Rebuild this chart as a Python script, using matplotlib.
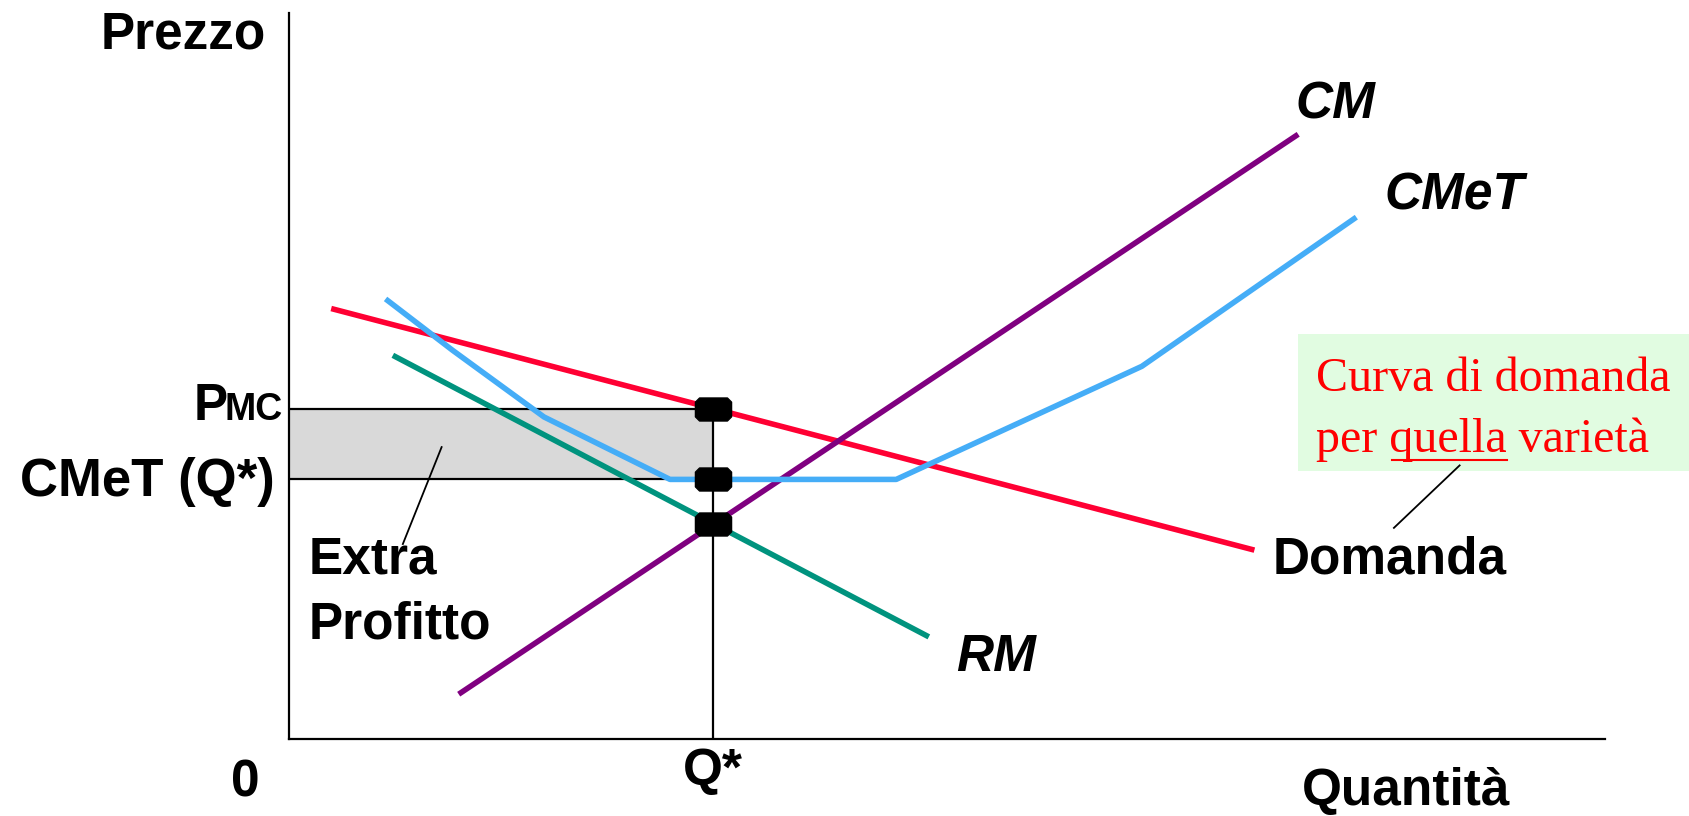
import numpy as np
import matplotlib.pyplot as plt
from matplotlib.path import Path
from matplotlib.lines import Line2D

# Curve (x, y) nodes in chart units
domanda_x = [4.2, 89.4]
domanda_y = [39.9, 17.6]
rm_x = [9.9, 59.2]
rm_y = [35.5, 9.6]
cm_x = [16.0, 93.5]
cm_y = [4.3, 56.0]
cmet_x = [9.2, 15.2, 23.7, 35.4, 56.4, 79.2, 98.9]
cmet_y = [40.7, 36.1, 29.9, 24.1, 24.1, 34.6, 48.3]

q_star = 39.4
p_mc = 30.6
cmet_q = 24.1
cm_q = 20.0

RED = "#ff0033"
TEAL = "#00937e"
PURPLE = "#800080"
BLUE = "#45adf7"

plt.rcParams["font.family"] = ["Liberation Sans", "DejaVu Sans"]

fig = plt.figure(figsize=(16.89, 8.16), dpi=100)
ax = fig.add_axes([0.1709, 0.0944, 0.7794, 0.8896])
ax.set_xlim(0, 122.2)
ax.set_ylim(0, 67.4)
for s in ["top", "right"]:
    ax.spines[s].set_visible(False)
for s in ["left", "bottom"]:
    ax.spines[s].set_linewidth(1.6)
ax.set_xticks([])
ax.set_yticks([])

# area of extra profit
ax.fill_between([0, q_star], cmet_q, p_mc, color="#d9d9d9", lw=0, zorder=1)
ax.plot([0, q_star], [p_mc, p_mc], color="black", lw=1.6, zorder=2)
ax.plot([0, q_star], [cmet_q, cmet_q], color="black", lw=1.6, zorder=2)
ax.plot([q_star, q_star], [0, p_mc], color="black", lw=1.6, zorder=2)

lw = 4.0
ax.plot(domanda_x, domanda_y, color=RED, lw=lw, zorder=3)
ax.plot(rm_x, rm_y, color=TEAL, lw=lw, zorder=3)
ax.plot(cm_x, cm_y, color=PURPLE, lw=lw, zorder=3)
ax.plot(cmet_x, cmet_y, color=BLUE, lw=lw, zorder=3)

# rounded black markers at Q*
w, h, c = 0.785, 0.5, 0.18
verts = [(-w + c, -h), (w - c, -h), (w, -h + c), (w, h - c), (w - c, h),
         (-w + c, h), (-w, h - c), (-w, -h + c), (-w + c, -h)]
codes = [Path.MOVETO] + [Path.LINETO] * 7 + [Path.CLOSEPOLY]
pill = Path(verts, codes)
ax.plot([q_star] * 3, [p_mc, cmet_q, cm_q], ls="none", marker=pill,
        markersize=26, color="black", zorder=5)

bold = dict(fontsize=37, fontweight="bold", clip_on=False)
bi = dict(fontsize=37, fontweight="bold", style="italic", clip_on=False)

ax.text(-9.8, 65.4, "Prezzo", ha="center", va="center", **bold)
ax.text(-4.0, -4.1, "0", ha="center", va="center", **bold)
ax.text(q_star, -3.0, "Q*", ha="center", va="center", **bold)
ax.text(103.7, -4.9, "Quantità", ha="center", va="center", **bold)
ax.text(-8.8, 29.6, "P", ha="left", va="baseline", **bold)
ax.text(-6.0, 29.6, "MC", ha="left", va="baseline", fontsize=27,
        fontweight="bold", clip_on=False)
ax.text(-1.3, 23.9, "CMeT (Q*)", ha="right", va="center", fontsize=38,
        fontweight="bold", clip_on=False)
ax.text(1.9, 16.6, "Extra", ha="left", va="center", **bold)
ax.text(1.9, 10.6, "Profitto", ha="left", va="center", **bold)
ax.plot([14.2, 10.6], [27.1, 18.1], color="black", lw=1.3, clip_on=False)

ax.text(97.2, 58.9, "CM", ha="center", va="center", **bi)
ax.text(108.2, 50.4, "CMeT", ha="center", va="center", **bi)
ax.text(65.7, 7.6, "RM", ha="center", va="center", **bi)
ax.text(102.2, 16.6, "Domanda", ha="center", va="center", **bold)

# note box about the demand curve
ax.fill_between([93.7, 131.0], 24.9, 37.6, color="#e1fce1", lw=0,
                zorder=0, clip_on=False)
serif = dict(fontsize=34.6, color="#ff0000", family="Liberation Serif",
             clip_on=False)
ax.text(95.4, 33.4, "Curva di domanda", ha="left", va="center", **serif)
ax.text(95.4, 27.8, "per quella varietà", ha="left", va="center", **serif)

# underline "quella"
renderer = fig.canvas.get_renderer()
t_pre = ax.text(95.4, 27.8, "per ", ha="left", va="center", **serif)
t_word = ax.text(95.4, 27.8, "per quella", ha="left", va="center", **serif)
e_pre = t_pre.get_window_extent(renderer)
e_word = t_word.get_window_extent(renderer)
t_pre.remove()
t_word.remove()
inv = ax.transData.inverted()
x0 = inv.transform((e_pre.x1 + 2, 0))[0]
x1 = inv.transform((e_word.x1, 0))[0]
ax.plot([x0, x1], [25.9, 25.9], color="#ff0000", lw=1.5, clip_on=False)

ax.plot([108.7, 102.6], [25.4, 19.6], color="black", lw=1.3, clip_on=False)

fig.savefig("out.png", dpi=100)
